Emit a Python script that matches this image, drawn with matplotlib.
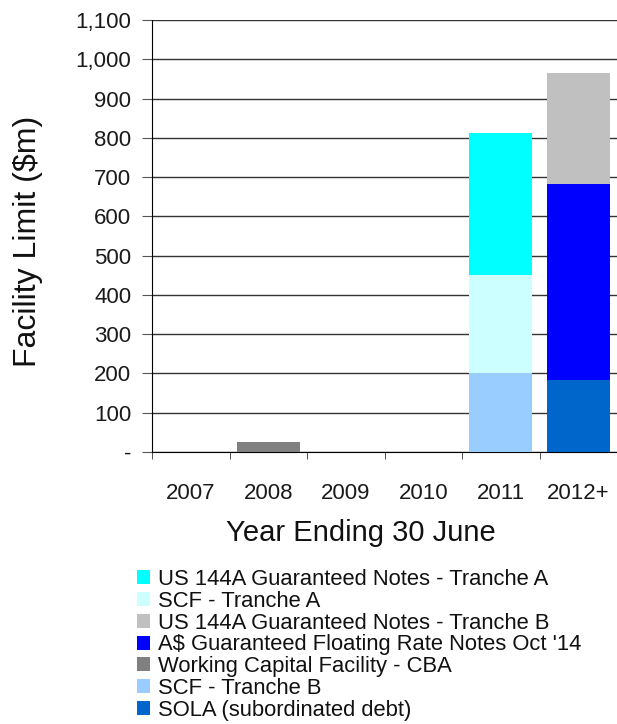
import numpy as np
import matplotlib.pyplot as plt
from matplotlib.patches import Patch

plt.rcParams['font.family'] = ['Liberation Sans', 'DejaVu Sans']

# Facility limits ($m) by year ending 30 June
years = ['2007', '2008', '2009', '2010', '2011', '2012+']
wcf_cba = [0, 25, 0, 0, 0, 0]
scf_b = [0, 0, 0, 0, 200, 0]
sola = [0, 0, 0, 0, 0, 183]
scf_a = [0, 0, 0, 0, 250, 0]
frn_oct14 = [0, 0, 0, 0, 0, 500]
us144a_a = [0, 0, 0, 0, 362, 0]
us144a_b = [0, 0, 0, 0, 0, 282]

# stacking order bottom -> top
stack = [
    ('Working Capital Facility - CBA', wcf_cba, '#808080'),
    ('SCF - Tranche B', scf_b, '#99CCFF'),
    ('SOLA (subordinated debt)', sola, '#0066CC'),
    ('SCF - Tranche A', scf_a, '#CCFFFF'),
    ("A$ Guaranteed Floating Rate Notes Oct '14", frn_oct14, '#0000FF'),
    ('US 144A Guaranteed Notes - Tranche A', us144a_a, '#00FFFF'),
    ('US 144A Guaranteed Notes - Tranche B', us144a_b, '#C0C0C0'),
]
legend_order = [
    'US 144A Guaranteed Notes - Tranche A',
    'SCF - Tranche A',
    'US 144A Guaranteed Notes - Tranche B',
    "A$ Guaranteed Floating Rate Notes Oct '14",
    'Working Capital Facility - CBA',
    'SCF - Tranche B',
    'SOLA (subordinated debt)',
]

fig = plt.figure(figsize=(6.17, 7.24), dpi=100)
ax = fig.add_axes([0.2464, 0.3757, 0.7536, 0.5967])

x = np.arange(len(years))
bottom = np.zeros(len(years))
colors = {}
for name, vals, col in stack:
    vals = np.array(vals, dtype=float)
    ax.bar(x, vals, width=0.81, bottom=bottom, color=col, zorder=3)
    bottom += vals
    colors[name] = col

ax.set_xlim(-0.5, len(years) - 0.5)
ax.set_ylim(0, 1100)
ax.set_yticks(np.arange(0, 1101, 100))
ax.set_yticklabels(['-'] + [f'{v:,}' for v in range(100, 1101, 100)], fontsize=16)
ax.yaxis.grid(True, color='#333333', linewidth=1.0, zorder=0)
ax.tick_params(axis='y', length=7, color='#555555', pad=8, labelcolor='#1a1a1a')

ax.set_xticks(x)
ax.set_xticklabels(years, fontsize=16)
ax.set_xticks(np.arange(-0.5, len(years), 1.0), minor=True)
ax.tick_params(axis='x', which='major', length=0, pad=22, labelcolor='#1a1a1a')
ax.tick_params(axis='x', which='minor', length=5, direction='out', color='#333333')

for side in ['top', 'right']:
    ax.spines[side].set_visible(False)
ax.spines['left'].set_color('black')
ax.spines['bottom'].set_color('black')

ax.set_ylabel('Facility Limit ($m)', fontsize=23, color='#111111')
ax.set_xlabel('Year Ending 30 June', fontsize=21, color='#111111')
ax.yaxis.set_label_coords(-0.234, 0.487)
ax.xaxis.set_label_coords(0.45, -0.155)

handles = [Patch(facecolor=colors[n], edgecolor='none') for n in legend_order]
fig.legend(handles, legend_order, loc='upper left', bbox_to_anchor=(0.222, 0.214),
           frameon=False, fontsize=15.8, handlelength=0.6, handleheight=0.6,
           handletextpad=0.35, labelspacing=0.035, borderpad=0, borderaxespad=0,
           labelcolor='#111111')

fig.savefig('out.png', dpi=100)
